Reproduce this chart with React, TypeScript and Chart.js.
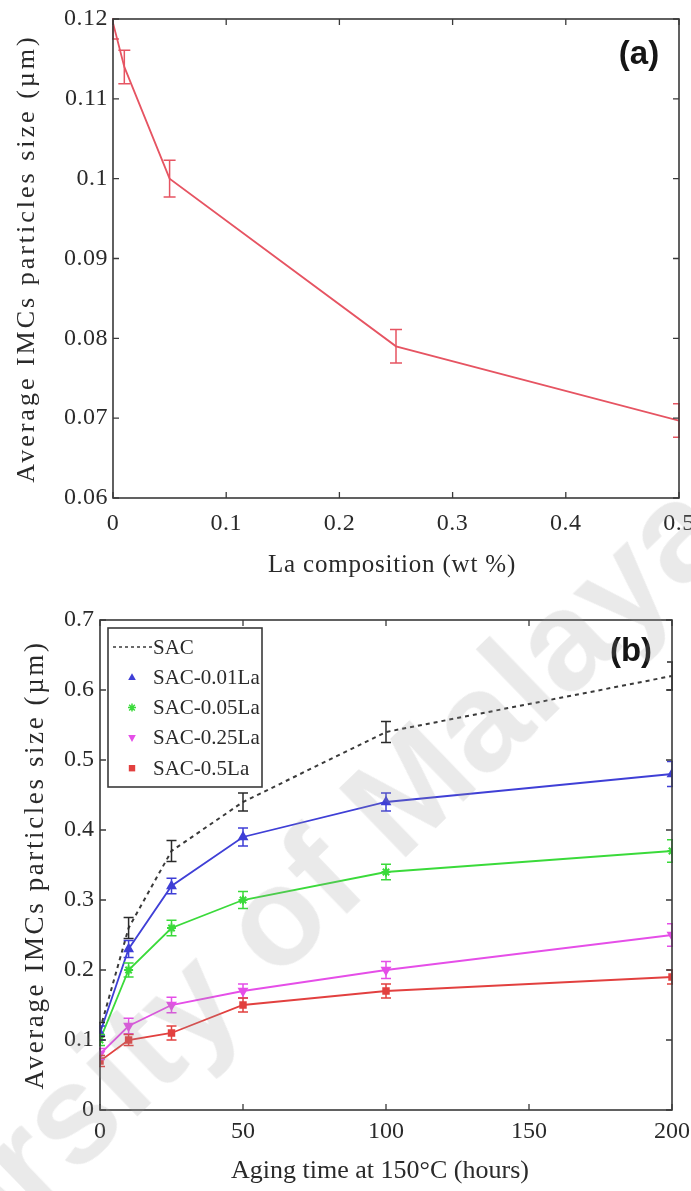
import React, { useEffect, useRef } from "react";
import { Chart, registerables } from "chart.js";

Chart.register(...registerables);

// ---------- Panel (a): La composition vs IMC size ----------
const laComposition = [0, 0.01, 0.05, 0.25, 0.5];
const particleSizeA = [0.1195, 0.114, 0.1, 0.079, 0.0697];
const particleErrA = [0.002, 0.0021, 0.0023, 0.0021, 0.0021];
const xRangeA = [0, 0.5];
const xStepA = 0.1;
const yRangeA = [0.06, 0.12];
const yStepA = 0.01;

// ---------- Panel (b): aging time vs IMC size ----------
const agingHours = [0, 10, 25, 50, 100, 200];
const seriesNames = ["SAC", "SAC-0.01La", "SAC-0.05La", "SAC-0.25La", "SAC-0.5La"];
const sacSize = [0.115, 0.26, 0.37, 0.44, 0.54, 0.62];
const la001Size = [0.11, 0.23, 0.32, 0.39, 0.44, 0.48];
const la005Size = [0.1, 0.2, 0.26, 0.3, 0.34, 0.37];
const la025Size = [0.08, 0.12, 0.15, 0.17, 0.2, 0.25];
const la05Size = [0.07, 0.1, 0.11, 0.15, 0.17, 0.19];
const sacErr = [0.01, 0.015, 0.015, 0.013, 0.015, 0.02];
const la001Err = [0.01, 0.012, 0.011, 0.013, 0.013, 0.018];
const la005Err = [0.008, 0.01, 0.011, 0.012, 0.011, 0.016];
const la025Err = [0.008, 0.011, 0.011, 0.01, 0.012, 0.016];
const la05Err = [0.008, 0.008, 0.01, 0.01, 0.01, 0.01];
const xRangeB = [0, 200];
const xStepB = 50;
const yRangeB = [0, 0.7];
const yStepB = 0.1;

// ---------- text ----------
const yTitle = "Average IMCs particles size (\u00b5m)";
const xTitleA = "La composition (wt %)";
const xTitleB = "Aging time at 150\u00b0C (hours)";
const panelA = "(a)";
const panelB = "(b)";
const watermarkText = "University of Malaya";

const SERIF = '"Liberation Serif", "Times New Roman", serif';
const SANS = '"Liberation Sans", Arial, sans-serif';
const TEXT = "#2a2a2a";
const AXIS = "#3a3a3a";

const fmt = (v: any) => String(parseFloat(Number(v).toFixed(4)));

type Box = { left: number; top: number; right: number; bottom: number; W: number; H: number };

type DecorCfg = {
  tickSpacing: string;
  yTitle: { text: string; x: number; size: number; spacing: number };
  xTitle: { text: string; y: number; dx: number; size: number; spacing: number };
  panel: { text: string; x: number; y: number; size: number };
  errors: (number[] | null)[];
  errColors: string[];
  capHalf: number;
  legend?: boolean;
};

function drawMarker(ctx: CanvasRenderingContext2D, style: string, x: number, y: number, r: number, color: string, rot: number) {
  ctx.save();
  ctx.fillStyle = color;
  ctx.strokeStyle = color;
  ctx.lineWidth = 1.5;
  ctx.translate(x, y);
  ctx.rotate((rot * Math.PI) / 180);
  ctx.beginPath();
  if (style === "triangle") {
    ctx.moveTo(0, -r);
    ctx.lineTo(r * 0.95, r * 0.7);
    ctx.lineTo(-r * 0.95, r * 0.7);
    ctx.closePath();
    ctx.fill();
  } else if (style === "rect") {
    ctx.rect(-r * 0.8, -r * 0.8, r * 1.6, r * 1.6);
    ctx.fill();
  } else if (style === "star") {
    for (let k = 0; k < 4; k++) {
      const a = (k * Math.PI) / 4;
      ctx.moveTo(Math.cos(a) * r, Math.sin(a) * r);
      ctx.lineTo(-Math.cos(a) * r, -Math.sin(a) * r);
    }
    ctx.stroke();
  }
  ctx.restore();
}

function decorPlugin(cfg: DecorCfg) {
  return {
    id: "decor",
    beforeDraw(chart: any) {
      (chart.ctx as any).letterSpacing = cfg.tickSpacing;
    },
    afterDatasetsDraw(chart: any) {
      const ctx: CanvasRenderingContext2D = chart.ctx;
      const ca = chart.chartArea;
      const xs = chart.scales.x;
      const ys = chart.scales.y;
      ctx.save();
      ctx.beginPath();
      ctx.rect(ca.left - 1, ca.top - 1, ca.right - ca.left + 2, ca.bottom - ca.top + 2);
      ctx.clip();
      chart.data.datasets.forEach((ds: any, i: number) => {
        const errs = cfg.errors[i];
        if (!errs) return;
        ctx.strokeStyle = cfg.errColors[i];
        ctx.lineWidth = 1.5;
        ds.data.forEach((p: any, j: number) => {
          const e = errs[j];
          const x = xs.getPixelForValue(p.x);
          const y1 = ys.getPixelForValue(p.y - e);
          const y2 = ys.getPixelForValue(p.y + e);
          ctx.beginPath();
          ctx.moveTo(x, y1);
          ctx.lineTo(x, y2);
          ctx.moveTo(x - cfg.capHalf, y1);
          ctx.lineTo(x + cfg.capHalf, y1);
          ctx.moveTo(x - cfg.capHalf, y2);
          ctx.lineTo(x + cfg.capHalf, y2);
          ctx.stroke();
        });
      });
      ctx.restore();
    },
    afterDraw(chart: any) {
      const ctx: CanvasRenderingContext2D = chart.ctx;
      const ca = chart.chartArea;
      const xs = chart.scales.x;
      const ys = chart.scales.y;
      ctx.save();
      (ctx as any).letterSpacing = "0px";
      // axes box
      ctx.strokeStyle = AXIS;
      ctx.lineWidth = 1.6;
      ctx.strokeRect(ca.left, ca.top, ca.right - ca.left, ca.bottom - ca.top);
      // inward ticks on all four sides
      const tl = 6;
      ctx.lineWidth = 1.3;
      ctx.beginPath();
      xs.ticks.forEach((t: any) => {
        const px = xs.getPixelForValue(t.value);
        ctx.moveTo(px, ca.bottom);
        ctx.lineTo(px, ca.bottom - tl);
        ctx.moveTo(px, ca.top);
        ctx.lineTo(px, ca.top + tl);
      });
      ys.ticks.forEach((t: any) => {
        const py = ys.getPixelForValue(t.value);
        ctx.moveTo(ca.left, py);
        ctx.lineTo(ca.left + tl, py);
        ctx.moveTo(ca.right, py);
        ctx.lineTo(ca.right - tl, py);
      });
      ctx.stroke();

      // axis titles
      ctx.fillStyle = TEXT;
      ctx.textAlign = "center";
      ctx.textBaseline = "middle";
      ctx.save();
      (ctx as any).letterSpacing = cfg.yTitle.spacing + "px";
      ctx.font = `${cfg.yTitle.size}px ${SERIF}`;
      ctx.translate(cfg.yTitle.x, (ca.top + ca.bottom) / 2);
      ctx.rotate(-Math.PI / 2);
      ctx.fillText(cfg.yTitle.text, 0, 0);
      ctx.restore();

      ctx.save();
      (ctx as any).letterSpacing = cfg.xTitle.spacing + "px";
      ctx.font = `${cfg.xTitle.size}px ${SERIF}`;
      ctx.fillText(cfg.xTitle.text, (ca.left + ca.right) / 2 + cfg.xTitle.dx, cfg.xTitle.y);
      ctx.restore();

      // panel label
      ctx.save();
      ctx.font = `bold ${cfg.panel.size}px ${SANS}`;
      ctx.fillStyle = "#151515";
      ctx.fillText(cfg.panel.text, cfg.panel.x, cfg.panel.y);
      ctx.restore();

      // legend
      if (cfg.legend) {
        const lx = ca.left + 8;
        const ly = ca.top + 8;
        const lw = 154;
        const lh = 159;
        ctx.fillStyle = "#ffffff";
        ctx.fillRect(lx, ly, lw, lh);
        ctx.strokeStyle = AXIS;
        ctx.lineWidth = 1.6;
        ctx.strokeRect(lx, ly, lw, lh);
        chart.data.datasets.forEach((ds: any, i: number) => {
          const ry = ly + 19 + i * 30.3;
          if (ds.pointRadius === 0) {
            ctx.save();
            ctx.strokeStyle = ds.borderColor;
            ctx.lineWidth = 1.6;
            ctx.setLineDash([3, 3]);
            ctx.beginPath();
            ctx.moveTo(lx + 5, ry);
            ctx.lineTo(lx + 44, ry);
            ctx.stroke();
            ctx.restore();
          } else {
            drawMarker(ctx, ds.pointStyle, lx + 24, ry, 4, ds.borderColor, ds.pointRotation || 0);
          }
          ctx.save();
          ctx.fillStyle = TEXT;
          ctx.textAlign = "left";
          ctx.textBaseline = "middle";
          ctx.font = `21px ${SERIF}`;
          ctx.fillText(ds.label, lx + 45, ry + 1);
          ctx.restore();
        });
      }
      ctx.restore();
    },
  };
}

function axisScale(min: number, max: number, step: number, box: Box, axis: "x" | "y", tickSize: number, padding: number) {
  return {
    type: "linear" as const,
    min,
    max,
    grid: { display: false, drawTicks: false },
    border: { display: false },
    ticks: {
      stepSize: step,
      padding,
      color: TEXT,
      autoSkip: false,
      maxRotation: 0,
      font: { family: SERIF, size: tickSize },
      callback: fmt,
    },
    afterFit: (s: any) => {
      if (axis === "x") {
        s.height = box.H - box.bottom;
      } else {
        s.width = box.left;
      }
      s.paddingLeft = 0;
      s.paddingRight = 0;
      s.paddingTop = 0;
      s.paddingBottom = 0;
    },
  };
}

const boxA: Box = { left: 113, top: 19, right: 679, bottom: 498, W: 691, H: 600 };
const boxB: Box = { left: 100, top: 20, right: 672, bottom: 510, W: 691, H: 591 };

function configA(): any {
  return {
    type: "line",
    data: {
      datasets: [
        {
          label: "SAC-xLa",
          data: laComposition.map((x, i) => ({ x, y: particleSizeA[i] })),
          borderColor: "#e65462",
          backgroundColor: "#e65462",
          borderWidth: 1.8,
          pointRadius: 0,
          tension: 0,
          fill: false,
        },
      ],
    },
    options: {
      responsive: false,
      animation: false,
      devicePixelRatio: 1,
      layout: { padding: { top: boxA.top, right: boxA.W - boxA.right, left: 0, bottom: 0 } },
      plugins: { legend: { display: false }, tooltip: { enabled: false } },
      scales: {
        x: axisScale(xRangeA[0], xRangeA[1], xStepA, boxA, "x", 24, 11),
        y: axisScale(yRangeA[0], yRangeA[1], yStepA, boxA, "y", 24, 5),
      },
    },
    plugins: [
      decorPlugin({
        tickSpacing: "0.5px",
        yTitle: { text: yTitle, x: 27, size: 26, spacing: 3 },
        xTitle: { text: xTitleA, y: 565, dx: -4, size: 25, spacing: 0.8 },
        panel: { text: panelA, x: 639, y: 55, size: 33 },
        errors: [particleErrA],
        errColors: ["#e65462"],
        capHalf: 6,
      }),
    ],
  };
}

function configB(): any {
  const pts = (vals: number[]) => agingHours.map((x, i) => ({ x, y: vals[i] }));
  const BLUE = "#3f3fd6";
  const GREEN = "#3ada3a";
  const MAGENTA = "#e54ee8";
  const RED = "#e2403f";
  return {
    type: "line",
    data: {
      datasets: [
        { label: seriesNames[0], data: pts(sacSize), borderColor: "#3a3a3a", backgroundColor: "#3a3a3a", borderWidth: 2, borderDash: [4, 4], pointRadius: 0, tension: 0, fill: false },
        { label: seriesNames[1], data: pts(la001Size), borderColor: BLUE, backgroundColor: BLUE, borderWidth: 1.8, pointStyle: "triangle", pointRadius: 4.5, tension: 0, fill: false },
        { label: seriesNames[2], data: pts(la005Size), borderColor: GREEN, backgroundColor: GREEN, borderWidth: 1.8, pointStyle: "star", pointRadius: 4.5, pointBorderWidth: 2, tension: 0, fill: false },
        { label: seriesNames[3], data: pts(la025Size), borderColor: MAGENTA, backgroundColor: MAGENTA, borderWidth: 1.8, pointStyle: "triangle", pointRotation: 180, pointRadius: 4.5, tension: 0, fill: false },
        { label: seriesNames[4], data: pts(la05Size), borderColor: RED, backgroundColor: RED, borderWidth: 1.8, pointStyle: "rect", pointRadius: 4, tension: 0, fill: false },
      ],
    },
    options: {
      responsive: false,
      animation: false,
      devicePixelRatio: 1,
      layout: { padding: { top: boxB.top, right: boxB.W - boxB.right, left: 0, bottom: 0 } },
      plugins: { legend: { display: false }, tooltip: { enabled: false } },
      scales: {
        x: axisScale(xRangeB[0], xRangeB[1], xStepB, boxB, "x", 24, 7),
        y: axisScale(yRangeB[0], yRangeB[1], yStepB, boxB, "y", 24, 6),
      },
    },
    plugins: [
      decorPlugin({
        tickSpacing: "0px",
        yTitle: { text: yTitle, x: 36, size: 27, spacing: 2.6 },
        xTitle: { text: xTitleB, y: 571, dx: -6, size: 26, spacing: 0 },
        panel: { text: panelB, x: 631, y: 52, size: 33 },
        errors: [sacErr, la001Err, la005Err, la025Err, la05Err],
        errColors: ["#2a2a2a", BLUE, GREEN, MAGENTA, RED],
        capHalf: 5,
        legend: true,
      }),
    ],
  };
}

export default function App() {
  const refA = useRef<HTMLCanvasElement>(null);
  const refB = useRef<HTMLCanvasElement>(null);

  useEffect(() => {
    const a = new Chart(refA.current as HTMLCanvasElement, configA());
    const b = new Chart(refB.current as HTMLCanvasElement, configB());
    return () => {
      a.destroy();
      b.destroy();
    };
  }, []);

  return (
    <div style={{ position: "absolute", left: 0, top: 0, width: 691, height: 1191, overflow: "hidden", background: "#ffffff" }}>
      <canvas ref={refA} width={691} height={600} style={{ position: "absolute", left: 0, top: 0, width: 691, height: 600 }} />
      <canvas ref={refB} width={691} height={591} style={{ position: "absolute", left: 0, top: 600, width: 691, height: 591 }} />
      <div
        style={{
          position: "absolute",
          left: -321,
          top: 1395,
          transformOrigin: "0 0",
          transform: "rotate(-44deg)",
          fontFamily: SANS,
          fontWeight: "bold",
          fontSize: 140,
          lineHeight: 1,
          whiteSpace: "nowrap",
          color: "rgba(150,150,150,0.2)",
          pointerEvents: "none",
        }}
      >
        {watermarkText}
      </div>
    </div>
  );
}
